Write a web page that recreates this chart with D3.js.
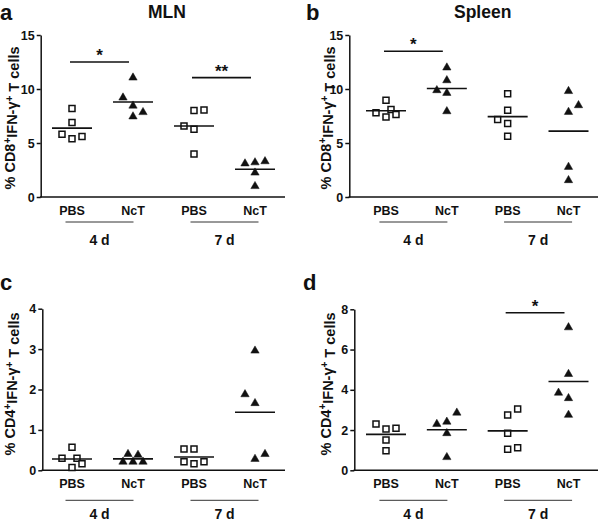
<!DOCTYPE html>
<html><head><meta charset="utf-8">
<script src="https://cdn.jsdelivr.net/npm/d3@7"></script>
<style>
body{margin:0;background:#fff}
svg{display:block}
text{font-family:"Liberation Sans",Arial,sans-serif;font-weight:bold;fill:#111}
</style>
</head><body>
<svg id="chart" width="600" height="522"></svg>
<script>
// ---------- data ----------
const categories = ["PBS", "NcT", "PBS", "NcT"];
const timepoints = ["4 d", "7 d"];
const panelLetters = ["a", "b", "c", "d"];
const panelTitles = ["MLN", "Spleen", "", ""];
const cellTypes = ["CD8", "CD8", "CD4", "CD4"];

// a: MLN, CD8+IFN-γ+
const mlnCD8_PBS4 = [8.2, 6.9, 5.8, 5.4, 5.6];
const mlnCD8_NcT4 = [11.05, 9.2, 8.45, 7.85, 7.45];
const mlnCD8_PBS7 = [8.0, 8.05, 6.57, 6.27, 3.98];
const mlnCD8_NcT7 = [3.1, 3.2, 3.3, 2.25, 1.0];
// b: Spleen, CD8+IFN-γ+
const splCD8_PBS4 = [8.95, 7.8, 8.1, 7.4, 7.65];
const splCD8_NcT4 = [11.98, 10.8, 9.88, 9.63, 7.93];
const splCD8_PBS7 = [9.57, 8.03, 7.17, 6.8, 5.62];
const splCD8_NcT7 = [9.8, 8.49, 7.87, 2.78, 1.55];
// c: MLN, CD4+IFN-γ+
const mlnCD4_PBS4 = [0.57, 0.30, 0.30, 0.16, 0.07];
const mlnCD4_NcT4 = [0.40, 0.38, 0.21, 0.21, 0.21];
const mlnCD4_PBS7 = [0.53, 0.53, 0.21, 0.16, 0.21];
const mlnCD4_NcT7 = [2.96, 1.88, 1.66, 0.40, 0.28];
// d: Spleen, CD4+IFN-γ+
const splCD4_PBS4 = [2.30, 2.05, 2.09, 1.51, 0.97];
const splCD4_NcT4 = [2.30, 2.41, 2.86, 1.84, 0.65];
const splCD4_PBS7 = [2.75, 3.05, 1.84, 1.04, 1.12];
const splCD4_NcT7 = [7.10, 4.78, 3.85, 3.58, 2.75];

// scatter column of each point (how the dots are spread side by side)
const colsA = [[0,0,-1,0,1],[0,-1,0,1,0],[0,1,-1,0,0],[-1,0,1,0,0]];
const colsB = [[0,-1,0.5,0,1],[0,0,-1,0,0],[0,0,-1,0,0],[0,1,0,0,0]];
const colsC = [[0,-1,0.5,1,0],[-0.5,0.5,-1,0,1],[-1,0,-1,0,1],[0,-1,0,1,0]];
const colsD = [[-1,0,1,0,0],[-1,0,1,0,0],[0,1,0,0,1],[0,0,-1,0,0]];

// y-axis domains and tick labels
const domains = [[0,15],[0,15],[0,4],[0,8]];
const yTicksA = [0,5,10,15];
const yTicksB = [0,5,10,15];
const yTicksC = [0,1,2,3,4];
const yTicksD = [0,2,4,6,8];

// significance: [fromGroup, toGroup, value, label]
const sigA = [[0,1,12.5,"*"],[2,3,11.05,"**"]];
const sigB = [[0,1,13.5,"*"]];
const sigC = [];
const sigD = [[2,3,7.83,"*"]];

const panelData = [
  {values:[mlnCD8_PBS4, mlnCD8_NcT4, mlnCD8_PBS7, mlnCD8_NcT7], cols:colsA, ticks:yTicksA, sig:sigA},
  {values:[splCD8_PBS4, splCD8_NcT4, splCD8_PBS7, splCD8_NcT7], cols:colsB, ticks:yTicksB, sig:sigB},
  {values:[mlnCD4_PBS4, mlnCD4_NcT4, mlnCD4_PBS7, mlnCD4_NcT7], cols:colsC, ticks:yTicksC, sig:sigC},
  {values:[splCD4_PBS4, splCD4_NcT4, splCD4_PBS7, splCD4_NcT7], cols:colsD, ticks:yTicksD, sig:sigD}
];

// ---------- layout ----------
const layout = [
  {left:40.7, right:285, top:35, bottom:197, cat:[72,255], letter:[0,20], title:[167,17.5], ylab:[15,118], grpLine:25, grpText:48},
  {left:349.3, right:598, top:35, bottom:197, cat:[386,568.5], letter:[306,20], title:[482.7,17.5], ylab:[330.5,118], grpLine:25, grpText:48},
  {left:42.3, right:285, top:308.7, bottom:470.3, cat:[72,255], letter:[0,290], title:null, ylab:[15,384], grpLine:30, grpText:48.2},
  {left:354.3, right:598, top:309.3, bottom:470.3, cat:[386,568.5], letter:[303,290], title:null, ylab:[330.5,384], grpLine:30, grpText:48.2}
];
const colStep = 10;
const ink = "#111";

const svg = d3.select("#chart");
const square = d3.symbol().type(d3.symbolSquare).size(36)();
const tri = d3.symbol().type(d3.symbolTriangle).size(30)();

panelData.forEach((P, pi) => {
  const L = layout[pi];
  const g = svg.append("g");
  const y = d3.scaleLinear().domain(domains[pi]).range([L.bottom, L.top]);
  const x = d3.scalePoint().domain(d3.range(categories.length)).range(L.cat);

  // panel letter
  g.append("text").attr("x", L.letter[0]).attr("y", L.letter[1])
    .style("font-size", "22px").text(panelLetters[pi]);
  // title
  if (panelTitles[pi]) {
    g.append("text").attr("x", L.title[0]).attr("y", L.title[1])
      .attr("text-anchor", "middle").style("font-size", "17.5px").text(panelTitles[pi]);
  }

  // y axis
  const ax = g.append("g").attr("transform", `translate(${L.left},0)`)
    .call(d3.axisLeft(y).tickValues(P.ticks).tickFormat(d3.format("d"))
      .tickSize(4).tickSizeOuter(0).tickPadding(2));
  ax.select(".domain").attr("stroke", ink).attr("stroke-width", 1.5);
  ax.selectAll(".tick line").attr("stroke", ink).attr("stroke-width", 1.5);
  ax.selectAll(".tick text").style("font-size", "12.5px").attr("fill", ink)
    .style("font-family", '"Liberation Sans",Arial,sans-serif').style("font-weight", "bold");

  // x axis line
  g.append("line").attr("x1", L.left - 0.75).attr("x2", L.right)
    .attr("y1", L.bottom).attr("y2", L.bottom).attr("stroke", ink).attr("stroke-width", 1.5);

  // y label
  const yl = g.append("text")
    .attr("transform", `translate(${L.ylab[0]},${L.ylab[1]}) rotate(-90)`)
    .attr("text-anchor", "middle").style("font-size", "14.5px");
  yl.append("tspan").text("% " + cellTypes[pi]);
  yl.append("tspan").attr("dy", "-0.45em").style("font-size", "10px").text("+");
  yl.append("tspan").attr("dy", "0.45em").text("IFN-γ");
  yl.append("tspan").attr("dy", "-0.45em").style("font-size", "10px").text("+");
  yl.append("tspan").attr("dy", "0.45em").text(" T cells");

  // category labels
  categories.forEach((c, i) => {
    g.append("text").attr("x", x(i)).attr("y", L.bottom + 18)
      .attr("text-anchor", "middle").style("font-size", "12.5px").text(c);
  });
  // time-point brackets
  timepoints.forEach((t, j) => {
    const mid = (x(2 * j) + x(2 * j + 1)) / 2 - (j === 0 ? 3 : 0);
    g.append("line").attr("x1", mid - 34).attr("x2", mid + 34)
      .attr("y1", L.bottom + L.grpLine).attr("y2", L.bottom + L.grpLine)
      .attr("stroke", "#333").attr("stroke-width", 1);
    g.append("text").attr("x", mid).attr("y", L.bottom + L.grpText)
      .attr("text-anchor", "middle").style("font-size", "14px").text(t);
  });

  // points and means
  P.values.forEach((vals, i) => {
    const isPBS = categories[i] === "PBS";
    vals.forEach((v, k) => {
      const px = x(i) + P.cols[i][k] * colStep;
      g.append("path").attr("d", isPBS ? square : tri)
        .attr("transform", `translate(${px},${y(v)})`)
        .attr("fill", isPBS ? "#fff" : ink)
        .attr("stroke", ink).attr("stroke-width", isPBS ? 1.5 : 0.5);
    });
    const m = d3.mean(vals);
    g.append("line").attr("x1", x(i) - 20).attr("x2", x(i) + 20)
      .attr("y1", y(m)).attr("y2", y(m)).attr("stroke", ink).attr("stroke-width", 1.6);
  });

  // significance bars
  P.sig.forEach(([a, b, v, lab]) => {
    const x1 = x(a) - 2, x2 = x(b) - 4;
    g.append("line").attr("x1", x1).attr("x2", x2).attr("y1", y(v)).attr("y2", y(v))
      .attr("stroke", ink).attr("stroke-width", 1.6);
    g.append("text").attr("x", (x1 + x2) / 2).attr("y", y(v) - 1)
      .attr("text-anchor", "middle").style("font-size", "17px").text(lab);
  });
});
</script>
</body></html>
